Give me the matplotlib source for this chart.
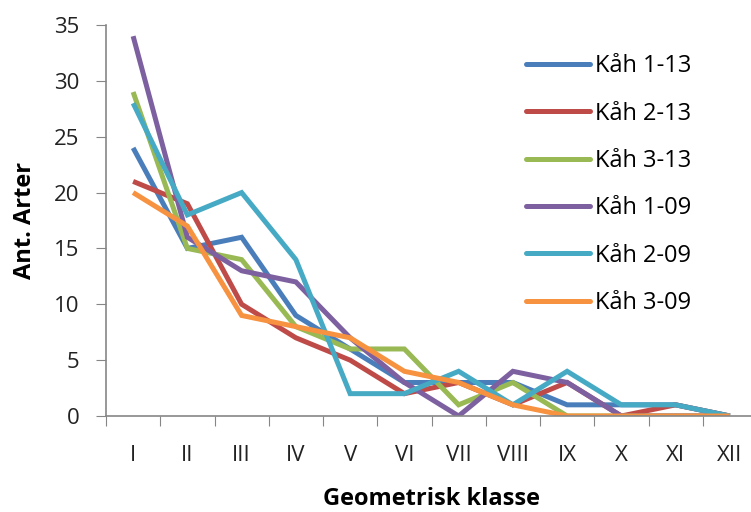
import matplotlib
matplotlib.use('Agg')
import matplotlib.pyplot as plt
import numpy as np

plt.rcParams['font.family'] = ['Open Sans', 'DejaVu Sans']

# species counts per geometric class
klasser = ['I', 'II', 'III', 'IV', 'V', 'VI', 'VII', 'VIII', 'IX', 'X', 'XI', 'XII']
kah_1_13 = [24, 15, 16, 9, 6, 3, 3, 3, 1, 1, 1, 0]
kah_2_13 = [21, 19, 10, 7, 5, 2, 3, 1, 3, 0, 1, 0]
kah_3_13 = [29, 15, 14, 8, 6, 6, 1, 3, 0, 0, 0, 0]
kah_1_09 = [34, 16, 13, 12, 7, 3, 0, 4, 3, 0, 0, 0]
kah_2_09 = [28, 18, 20, 14, 2, 2, 4, 1, 4, 1, 1, 0]
kah_3_09 = [20, 17, 9, 8, 7, 4, 3, 1, 0, 0, 0, 0]

serier = [('Kåh 1-13', kah_1_13, '#4a7ebb'),
          ('Kåh 2-13', kah_2_13, '#be4b48'),
          ('Kåh 3-13', kah_3_13, '#98b954'),
          ('Kåh 1-09', kah_1_09, '#7d60a0'),
          ('Kåh 2-09', kah_2_09, '#46aac5'),
          ('Kåh 3-09', kah_3_09, '#f69240')]

fig = plt.figure(figsize=(7.51, 5.12), dpi=100)
ax = fig.add_axes([106/751, 96/512, 651/751, 391/512])

x = np.arange(len(klasser))
for navn, verdier, farge in serier:
    ax.plot(x, verdier, color=farge, lw=3.6, label=navn, solid_joinstyle='miter',
            solid_capstyle='butt')

ax.set_xlim(-0.5, len(klasser) - 0.5)
ax.set_ylim(0, 35)
ax.set_yticks(np.arange(0, 36, 5))

# ticks between the categories, labels at the centres
ax.set_xticks(np.arange(-0.5, len(klasser), 1))
ax.set_xticklabels([])
ax.set_xticks(x, minor=True)
ax.set_xticklabels(klasser, minor=True)
ax.tick_params(axis='x', which='major', direction='out', length=7, color='#868686')
ax.tick_params(axis='x', which='minor', length=0, pad=21, labelsize=16, labelcolor='#222222')
ax.tick_params(axis='y', direction='out', length=7, color='#868686', pad=12,
               labelsize=16, labelcolor='#222222')

for s in ['top', 'right']:
    ax.spines[s].set_visible(False)
for s in ['left', 'bottom']:
    ax.spines[s].set_color('#868686')
    ax.spines[s].set_linewidth(1.2)

ax.set_ylabel('Ant. Arter', fontsize=17, fontweight='bold', labelpad=12)
ax.set_xlabel('Geometrisk klasse', fontsize=17, fontweight='bold', labelpad=15)

leg = ax.legend(loc='upper left', bbox_to_anchor=(505/751, 1 - 33/512),
                bbox_transform=fig.transFigure, frameon=False, fontsize=17,
                handlelength=2.7, handletextpad=0.2, labelspacing=0.99)
for h in leg.get_lines():
    h.set_linewidth(3.6)
    h.set_solid_capstyle('round')

fig.savefig('out.png', dpi=100)
